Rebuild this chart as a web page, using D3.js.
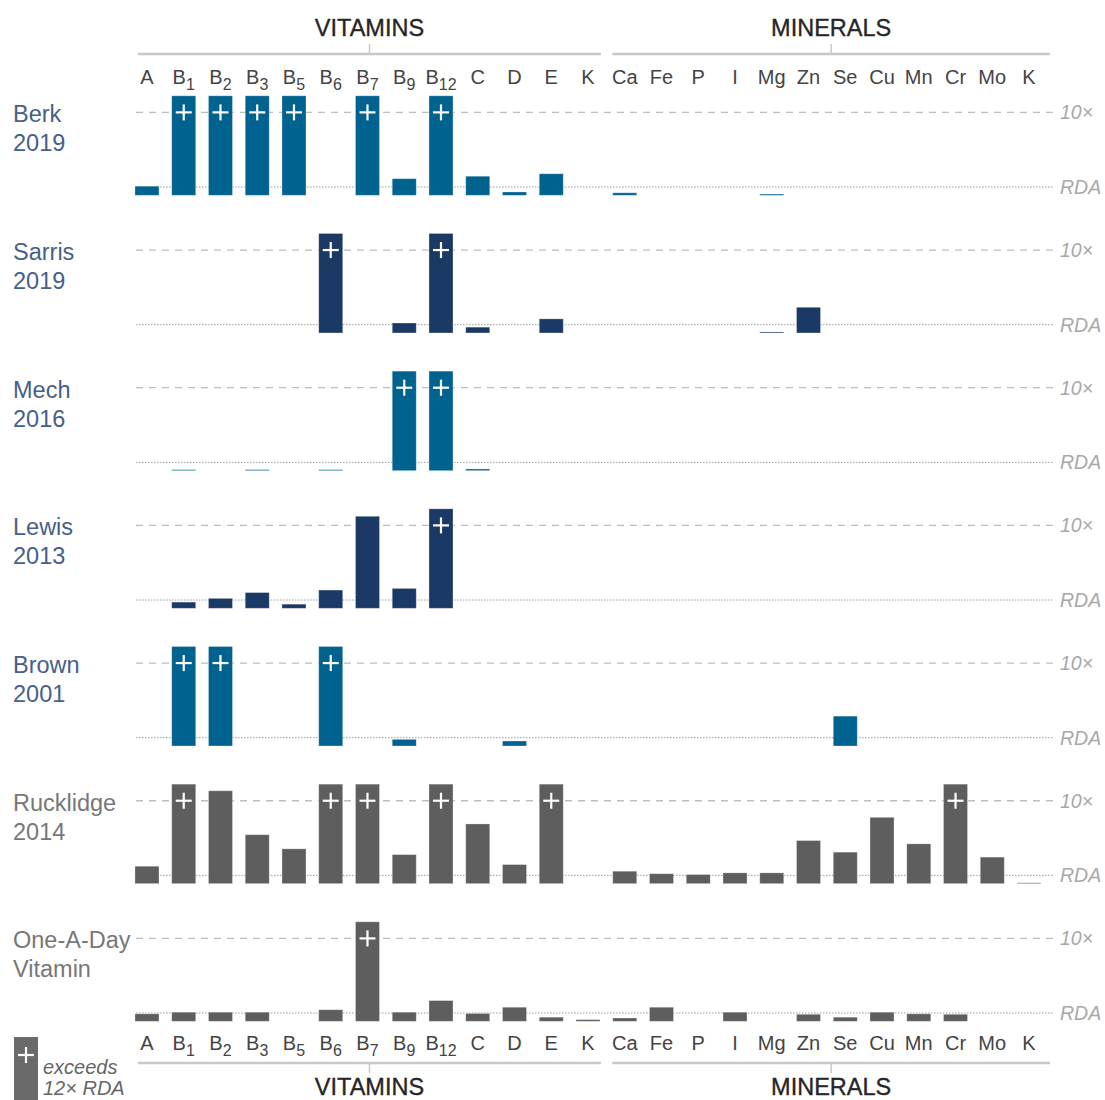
<!DOCTYPE html>
<html><head><meta charset="utf-8">
<script src="https://cdn.jsdelivr.net/npm/d3@7"></script>
<style>
html,body{margin:0;padding:0;background:#fff;}
svg{display:block;font-family:"Liberation Sans",Arial,Helvetica,sans-serif;}
</style></head>
<body>
<svg id="chart" width="1105" height="1100"></svg>
<script>
// ---------- DATA ----------
const vitamins = ["A","B1","B2","B3","B5","B6","B7","B9","B12","C","D","E","K"];
const minerals = ["Ca","Fe","P","I","Mg","Zn","Se","Cu","Mn","Cr","Mo","K"];
const studies = ["Berk 2019","Sarris 2019","Mech 2016","Lewis 2013","Brown 2001","Rucklidge 2014","One-A-Day Vitamin"];
const studyColors = ["#00628f","#1b3965","#00628f","#1b3965","#00628f","#5e5e5e","#5e5e5e"];
const labelColors = ["#46608a","#46608a","#46608a","#46608a","#46608a","#777777","#777777"];
const refLines = [1, 10];            // RDA, 10x
const refLabels = ["RDA", "10\u00d7"];
const CAP = 12;                      // values above 12x RDA are capped and marked "+"
const X = 13;                        // marker value: exceeds 12x RDA
// order: vitamins (13) then minerals (12); null = not present
const berk      = [1.1, X, X, X, X, null, X, 2.0, X, 2.3, 0.4, 2.6, null,  0.3, null, null, null, 0.15, null, null, null, null, null, null, null];
const sarris    = [null, null, null, null, null, X, null, 1.2, X, 0.7, null, 1.7, null,  null, null, null, null, 0.12, 3.1, null, null, null, null, null, null];
const mech      = [null, 0.12, null, 0.12, null, 0.12, null, X, X, 0.2, null, null, null,  null, null, null, null, null, null, null, null, null, null, null, null];
const lewis     = [null, 0.75, 1.2, 1.9, 0.5, 2.2, 11.1, 2.4, X, null, null, null, null,  null, null, null, null, null, null, null, null, null, null, null, null];
const brown     = [null, X, X, null, null, X, null, 0.8, null, null, 0.6, null, null,  null, null, null, null, null, null, 3.6, null, null, null, null, null];
const rucklidge = [2.1, X, 11.2, 5.9, 4.2, X, X, 3.5, X, 7.2, 2.3, X, null,  1.5, 1.2, 1.1, 1.3, 1.3, 5.2, 3.8, 8.0, 4.8, X, 3.2, 0.1];
const oneADay   = [0.9, 1.1, 1.1, 1.1, null, 1.4, X, 1.1, 2.5, 0.95, 1.7, 0.5, 0.2,  0.4, 1.7, null, 1.1, null, 0.85, 0.5, 1.1, 0.9, 0.85, null, null];
const studyValues = [berk, sarris, mech, lewis, brown, rucklidge, oneADay];

// ---------- LAYOUT ----------
const svg = d3.select("#chart");
const keys = vitamins.map(d => "v" + d).concat(minerals.map(d => "m" + d));
const labels = vitamins.concat(minerals);
const x = d3.scaleBand().domain(keys).range([128.6, 1047.4]).paddingInner(0.347).paddingOuter(0.1735);
const y = d3.scaleLinear().domain([0, CAP]).range([195.3, 95.8]);
const rowStep = 137.67;
const lineX0 = 136, lineX1 = 1054;

function addLabel(sel, lab) {
  const m = lab.match(/^([A-Z])(\d+)$/);
  if (m) {
    sel.append("tspan").text(m[1]);
    sel.append("tspan").attr("font-size", 16).attr("dy", 6).text(m[2]);
  } else sel.text(lab);
}

// column labels top & bottom
[83.5, 1049.5].forEach(by => {
  keys.forEach((k, i) => {
    const t = svg.append("text").attr("x", x(k) + x.bandwidth() / 2).attr("y", by)
      .attr("text-anchor", "middle").attr("font-size", 20).attr("fill", "#444");
    addLabel(t, labels[i]);
  });
});

// group headers
const groups = [
  {name: "VITAMINS", x0: x("vA") + 3, x1: x("vK") + x.bandwidth() + 1},
  {name: "MINERALS", x0: x("mCa") - 0.5, x1: x("mK") + x.bandwidth() + 9}
];
groups.forEach(g => {
  const cx = (g.x0 + g.x1) / 2;
  // top
  svg.append("line").attr("x1", g.x0).attr("x2", g.x1).attr("y1", 54).attr("y2", 54).attr("stroke", "#c8c8c8").attr("stroke-width", 2.5);
  svg.append("line").attr("x1", cx).attr("x2", cx).attr("y1", 44).attr("y2", 54).attr("stroke", "#c8c8c8").attr("stroke-width", 1.5);
  svg.append("text").attr("x", cx).attr("y", 36).attr("text-anchor", "middle").attr("font-size", 23.5)
    .attr("fill", "#262626").attr("stroke", "#262626").attr("stroke-width", 0.35).text(g.name);
  // bottom
  svg.append("line").attr("x1", g.x0).attr("x2", g.x1).attr("y1", 1063).attr("y2", 1063).attr("stroke", "#c8c8c8").attr("stroke-width", 2.5);
  svg.append("line").attr("x1", cx).attr("x2", cx).attr("y1", 1063).attr("y2", 1073).attr("stroke", "#c8c8c8").attr("stroke-width", 1.5);
  svg.append("text").attr("x", cx).attr("y", 1094.5).attr("text-anchor", "middle").attr("font-size", 23.5)
    .attr("fill", "#262626").attr("stroke", "#262626").attr("stroke-width", 0.35).text(g.name);
});

// panels
studies.forEach((s, i) => {
  const g = svg.append("g").attr("transform", `translate(0,${i * rowStep})`);
  // 10x dashed
  g.append("line").attr("x1", lineX0).attr("x2", lineX1).attr("y1", y(refLines[1])).attr("y2", y(refLines[1]))
    .attr("stroke", "#bdbdbd").attr("stroke-width", 1.3).attr("stroke-dasharray", "7,6");
  // RDA dotted
  g.append("line").attr("x1", lineX0).attr("x2", lineX1).attr("y1", y(refLines[0])).attr("y2", y(refLines[0]))
    .attr("stroke", "#9a9a9a").attr("stroke-width", 1).attr("stroke-dasharray", "1.5,1.5");
  // right labels
  refLines.forEach((r, j) => {
    g.append("text").attr("x", 1060).attr("y", y(r)).attr("dy", "0.36em").attr("font-size", 19.5)
      .attr("font-style", "italic").attr("fill", "#a8a8a8").text(refLabels[j]);
  });
  // left label
  const parts = s.split(" ");
  const lt = g.append("text").attr("x", 13).attr("font-size", 23.5).attr("fill", labelColors[i]);
  lt.append("tspan").attr("x", 13).attr("y", y(10) + 10).text(parts[0]);
  lt.append("tspan").attr("x", 13).attr("y", y(10) + 39).text(parts[1]);

  const data = studyValues[i].map((v, k) => ({k: keys[k], v})).filter(d => d.v != null);
  g.selectAll("rect.bar").data(data).join("rect").attr("class", "bar")
    .attr("x", d => x(d.k)).attr("width", x.bandwidth())
    .attr("y", d => y(Math.min(d.v, CAP))).attr("height", d => y(0) - y(Math.min(d.v, CAP)))
    .attr("fill", studyColors[i]).attr("stroke", "rgba(255,255,255,0.35)").attr("stroke-width", 0.8);
  const over = data.filter(d => d.v > CAP);
  over.forEach(d => {
    const cx = x(d.k) + x.bandwidth() / 2, cy = y(10);
    g.append("line").attr("x1", cx - 8).attr("x2", cx + 8).attr("y1", cy).attr("y2", cy).attr("stroke", "#fff").attr("stroke-width", 2.2);
    g.append("line").attr("x1", cx).attr("x2", cx).attr("y1", cy - 8).attr("y2", cy + 8).attr("stroke", "#fff").attr("stroke-width", 2.2);
  });
});

// legend
svg.append("rect").attr("x", 14).attr("y", 1037).attr("width", x.bandwidth()).attr("height", 70).attr("fill", "#6a6a6a");
svg.append("line").attr("x1", 18).attr("x2", 34).attr("y1", 1055).attr("y2", 1055).attr("stroke", "#fff").attr("stroke-width", 2.2);
svg.append("line").attr("x1", 26).attr("x2", 26).attr("y1", 1047).attr("y2", 1063).attr("stroke", "#fff").attr("stroke-width", 2.2);
svg.append("text").attr("x", 43).attr("y", 1074).attr("font-size", 20).attr("font-style", "italic").attr("fill", "#666").text("exceeds");
svg.append("text").attr("x", 43).attr("y", 1095).attr("font-size", 20).attr("font-style", "italic").attr("fill", "#666").text("12\u00d7 RDA");
</script>
</body></html>
